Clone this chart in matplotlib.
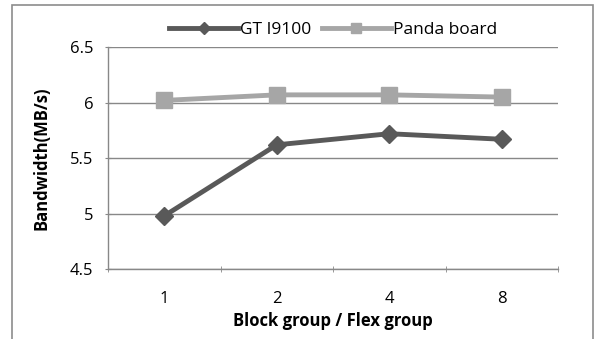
import matplotlib
matplotlib.use("Agg")
import matplotlib.pyplot as plt
from matplotlib.patches import Rectangle

plt.rcParams["font.family"] = ["Open Sans", "DejaVu Sans"]

categories = ["1", "2", "4", "8"]
gt_i9100 = [4.98, 5.62, 5.72, 5.67]
panda_board = [6.02, 6.07, 6.07, 6.05]

dark = "#595959"
light = "#a6a6a6"
grid = "#888888"

fig = plt.figure(figsize=(6, 3.39), dpi=100)
ax = fig.add_axes([0.18, 0.206, 0.75, 0.655])

x = list(range(len(categories)))
ax.plot(x, gt_i9100, color=dark, linewidth=3.5, marker="D", markersize=9,
        label="GT I9100", zorder=3)
ax.plot(x, panda_board, color=light, linewidth=3.5, marker="s", markersize=11,
        label="Panda board", zorder=3)

ax.set_xlim(-0.5, len(categories) - 0.5)
ax.set_ylim(4.5, 6.5)
ax.set_yticks([4.5, 5, 5.5, 6, 6.5])
ax.set_yticklabels(["4.5", "5", "5.5", "6", "6.5"])
ax.set_xticks(x)
ax.set_xticklabels(categories)
ax.set_xticks([i - 0.5 for i in range(len(categories) + 1)], minor=True)
ax.tick_params(axis="x", which="major", length=0, labelsize=12, pad=16)
ax.tick_params(axis="x", which="minor", length=5, color=grid, direction="inout")
ax.tick_params(axis="y", length=5, color=grid, labelsize=12, direction="inout", pad=8)
ax.yaxis.grid(True, color=grid, linewidth=1)
ax.set_axisbelow(True)

for side in ["top", "right"]:
    ax.spines[side].set_visible(False)
for side in ["left", "bottom"]:
    ax.spines[side].set_color(grid)
    ax.spines[side].set_linewidth(1)

ax.set_xlabel("Block group / Flex group", fontsize=12, fontweight="bold", labelpad=3)
ax.set_ylabel("Bandwidth(MB/s)", fontsize=12, fontweight="bold", labelpad=14)

leg = ax.legend(loc="lower center", bbox_to_anchor=(0.5, 1.0), ncol=2, frameon=False,
                fontsize=12.5, handlelength=4, handletextpad=0.1, columnspacing=0.6,
                borderaxespad=0.1, markerscale=0.7)

fig.patches.append(Rectangle((12 / 600, -0.05), 581 / 600, 1 - 5 / 339 + 0.05,
                             transform=fig.transFigure, fill=False,
                             edgecolor="#8c8c8c", linewidth=1.2))

fig.savefig("out.png", dpi=100)
